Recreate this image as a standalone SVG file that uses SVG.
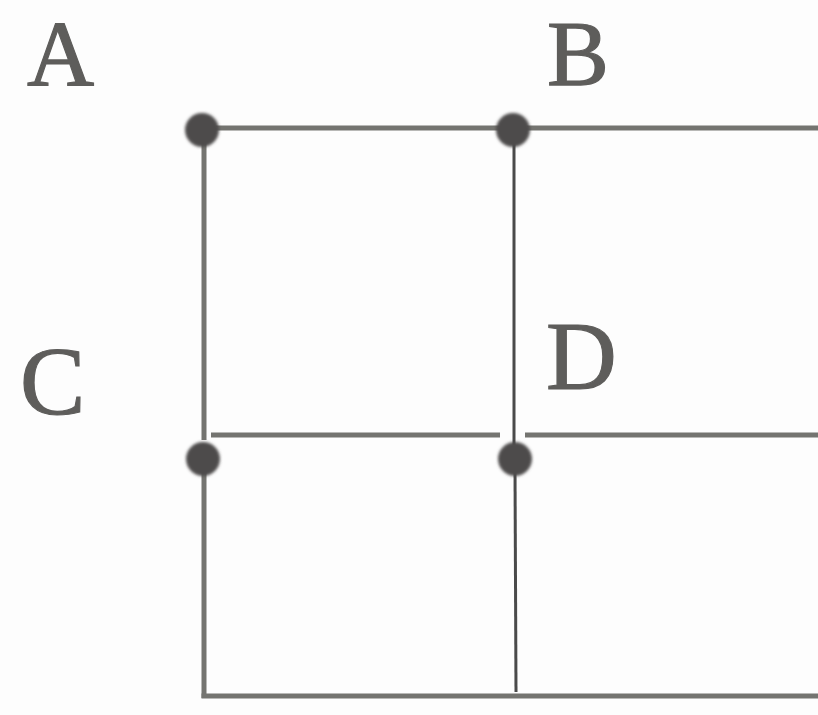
<svg xmlns="http://www.w3.org/2000/svg" width="818" height="715" viewBox="0 0 818 715">
<defs>
<style>
.ln{stroke:#747470;stroke-width:5;fill:none}
.thin{stroke:#4a4a4a;stroke-width:3;fill:none}
.dot{fill:#4d4b4b}
.lbl{font-family:"Liberation Serif","DejaVu Serif",serif;font-size:98px;fill:#5e5d5b;stroke:#5e5d5b;stroke-width:1.2}
.top{font-size:93px}
</style>
<filter id="blur" x="-50%" y="-50%" width="200%" height="200%"><feGaussianBlur stdDeviation="1.5"/></filter>
</defs>
<rect width="818" height="715" fill="#fdfdfd"/>
<g id="connectors">
<line class="ln" x1="215" y1="128" x2="500" y2="128"/>
<line class="ln" x1="524" y1="128" x2="818" y2="128"/>
<line class="ln" x1="204" y1="140" x2="204" y2="440"/>
<line class="ln" x1="211" y1="435" x2="500" y2="435"/>
<line class="ln" x1="525" y1="435" x2="818" y2="435"/>
<line class="ln" x1="204" y1="470" x2="204" y2="698"/>
<line class="ln" x1="201.5" y1="696" x2="818" y2="696"/>
<line class="thin" x1="514" y1="140" x2="514" y2="445"/>
<line class="thin" x1="515" y1="470" x2="516" y2="692"/>
</g>
<g id="A"><circle class="dot" cx="202" cy="130" r="17" filter="url(#blur)"/><text class="lbl top" x="27" y="85">A</text></g>
<g id="B"><circle class="dot" cx="513" cy="130" r="17" filter="url(#blur)"/><text class="lbl top" x="547" y="85">B</text></g>
<g id="C"><circle class="dot" cx="203" cy="459" r="17" filter="url(#blur)"/><text class="lbl" x="20" y="414">C</text></g>
<g id="D"><circle class="dot" cx="515" cy="459" r="17" filter="url(#blur)"/><text class="lbl" x="546" y="389">D</text></g>
</svg>
